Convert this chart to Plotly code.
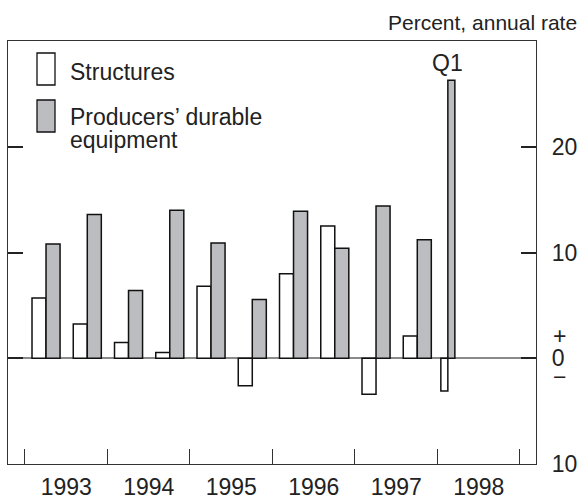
import plotly.graph_objects as go

# Business fixed investment, percent change at annual rate
periods = ["1993 H1", "1993 H2", "1994 H1", "1994 H2", "1995 H1", "1995 H2",
           "1996 H1", "1996 H2", "1997 H1", "1997 H2", "1998 Q1"]
structures = [5.7, 3.25, 1.5, 0.55, 6.8, -2.6, 8.0, 12.5, -3.4, 2.1, -3.1]
equipment = [10.8, 13.6, 6.4, 14.0, 10.9, 5.55, 13.9, 10.4, 14.4, 11.2, 26.3]
years = [1993, 1994, 1995, 1996, 1997, 1998]
ytick_vals = [-10, 0, 10, 20]
ytick_text = ["10", "0", "10", "20"]

FONT = "Liberation Sans, Arial, sans-serif"
INK = "#222222"
GRAY = "#bcbdc1"

W, H = 581, 498
L, R, T, B = 8, 45, 41, 34

# bar positions from the period labels (half years, and a single quarter at the end)
xs_s, xs_e, widths = [], [], []
for p in periods:
    yr, part = p.split()
    yr = int(yr)
    if part == "H1":
        xs_s.append(yr + 0.17); xs_e.append(yr + 0.34); widths.append(0.17)
    elif part == "H2":
        xs_s.append(yr + 0.67); xs_e.append(yr + 0.84); widths.append(0.17)
    else:
        xs_s.append(yr + 0.083); xs_e.append(yr + 0.168); widths.append(0.085)

fig = go.Figure()
fig.add_trace(go.Bar(x=xs_s, y=structures, width=widths, name="Structures",
                     marker=dict(color="white", line=dict(color="#111", width=1.5))))
fig.add_trace(go.Bar(x=xs_e, y=equipment, width=widths, name="Producers’ durable equipment",
                     marker=dict(color=GRAY, line=dict(color="#111", width=1.5))))


def px(x):
    return (x - L) / (W - L - R)


def py(y):
    return (H - B - y) / (H - T - B)


# legend drawn by hand so the swatches can be tall rectangles
shapes = [
    dict(type="rect", xref="paper", yref="paper", x0=px(37), x1=px(55), y0=py(85), y1=py(53),
         fillcolor="white", line=dict(color="#111", width=1.3)),
    dict(type="rect", xref="paper", yref="paper", x0=px(37), x1=px(55), y0=py(132), y1=py(100),
         fillcolor=GRAY, line=dict(color="#111", width=1.3)),
]
annotations = [
    dict(text="Structures", x=px(68), y=py(72), xanchor="left", yanchor="middle"),
    dict(text="Producers’ durable", x=px(68), y=py(117), xanchor="left", yanchor="middle"),
    dict(text="equipment", x=px(68), y=py(140), xanchor="left", yanchor="middle"),
    dict(text="Percent, annual rate", x=px(579), y=py(22), xanchor="right", yanchor="middle",
         font=dict(size=21, family=FONT, color=INK)),
    dict(text="Q1", x=1998.125, y=py(63), xref="x", xanchor="center", yanchor="middle"),
    dict(text="+", x=px(551), y=py(336), xanchor="left", yanchor="middle"),
    dict(text="−", x=px(551), y=py(377), xanchor="left", yanchor="middle"),
]
for a in annotations:
    a.setdefault("xref", "paper")
    a.setdefault("yref", "paper")
    a.setdefault("font", dict(size=23, family=FONT, color=INK))
    a["showarrow"] = False

fig.update_layout(
    width=W, height=H,
    margin=dict(l=L, r=R, t=T, b=B, autoexpand=False),
    paper_bgcolor="white", plot_bgcolor="white",
    showlegend=False,
    barmode="overlay",
    font=dict(family=FONT, size=23, color=INK),
    shapes=shapes,
    annotations=annotations,
    xaxis=dict(
        range=[1992.794, 1999.194],
        tickvals=[y + 0.5 for y in years], ticktext=[str(y) for y in years],
        ticks="", showgrid=False, zeroline=False,
        showline=True, linecolor="#333", linewidth=1.2, mirror=True,
        ticklabelstandoff=2,
        minor=dict(tickvals=years + [1999], ticks="inside", ticklen=15,
                   tickcolor="#333", tickwidth=1.2, showgrid=False),
    ),
    yaxis=dict(
        range=[-10, 30], side="right",
        tickvals=ytick_vals, ticktext=ytick_text,
        ticks="inside", ticklen=15, tickcolor="#222", tickwidth=1.5,
        showgrid=False,
        zeroline=True, zerolinecolor="#8a8a8a", zerolinewidth=1.5,
        showline=True, linecolor="#333", linewidth=1.2, mirror="ticks",
        ticklabelstandoff=10,
    ),
)

# the page's default body margin would shift the figure by 8px
fig.write_html("out.html", config={"displayModeBar": False},
               post_script="document.body.style.margin='0';")
